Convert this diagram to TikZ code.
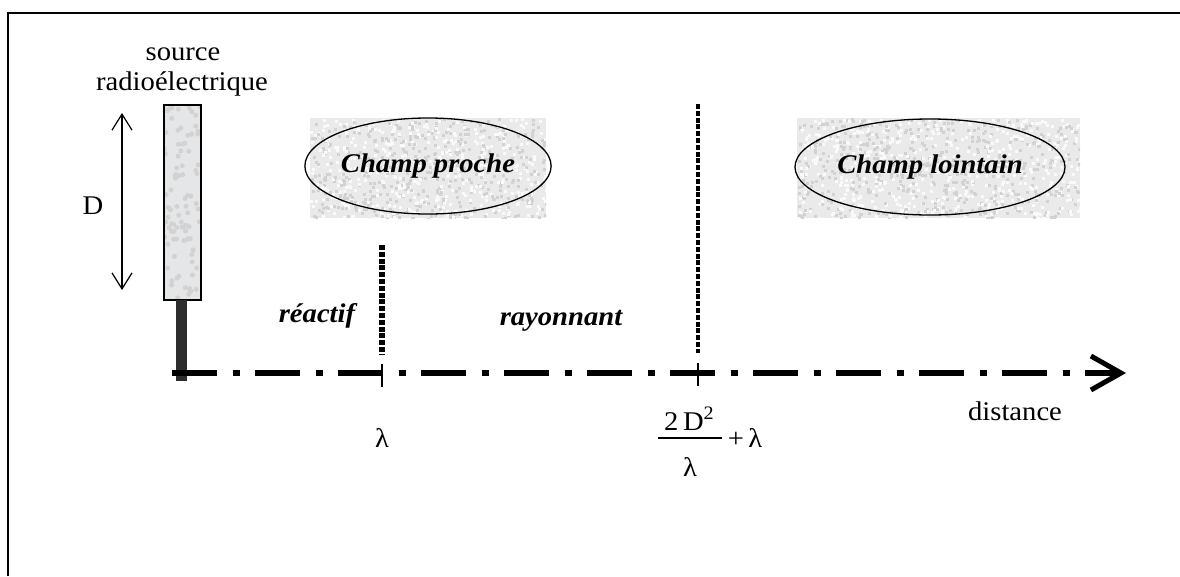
\documentclass[tikz,border=0pt]{standalone}
\usepackage{fontspec}
\setmainfont{Liberation Serif}[FakeStretch=1.06]
\usetikzlibrary{shapes.geometric,arrows.meta}
\definecolor{bgGray}{RGB}{234,234,234}
\definecolor{specDark}{RGB}{210,210,210}
\definecolor{specLight}{RGB}{250,250,250}
\definecolor{antGray}{RGB}{228,230,232}
\definecolor{stemGray}{RGB}{45,45,45}
\newcommand\myspeckle[5]{%
  \begin{scope}
    \clip (#1,#2) rectangle (#3,#4);
    \fill[bgGray] (#1,#2) rectangle (#3,#4);
    \foreach \k in {1,...,#5}{%
      \pgfmathsetmacro\px{#1+rnd*(#3-#1)}%
      \pgfmathsetmacro\py{#2+rnd*(#4-#2)}%
      \fill[specDark] (\px,\py) rectangle ++(3,3);
      \pgfmathsetmacro\qx{#1+rnd*(#3-#1)}%
      \pgfmathsetmacro\qy{#2+rnd*(#4-#2)}%
      \fill[specLight] (\qx,\qy) rectangle ++(3,3);
    }
  \end{scope}}
\tikzset{
  txt/.style={font=\fontsize{27}{30}\selectfont, inner sep=0pt, anchor=base},
  bitxt/.style={txt, font=\fontsize{27}{30}\selectfont\bfseries\itshape},
  zone/.style={ellipse, draw, line width=1.3pt, inner sep=0pt,
     font=\fontsize{27}{30}\selectfont\bfseries\itshape},
  axisline/.style={line width=5.5pt, dash pattern=on 45pt off 15.5pt on 7pt off 15.5pt,
     -{Straight Barb[length=30pt,width=34pt,line width=5pt]}},
  limit/.style={dash pattern=on 5pt off 1.8pt},
  tick/.style={line width=1.5pt},
  fracbar/.style={line width=1.5pt},
  dimarrow/.style={line width=1.2pt, {Straight Barb[length=16pt,width=20pt,line width=1.2pt]}-{Straight Barb[length=16pt,width=20pt,line width=1.2pt]}}
}
\begin{document}
\begin{tikzpicture}[x=1pt,y=-1pt]
\useasboundingbox (0,0) rectangle (1180,576);
\fill[white] (0,0) rectangle (1180,576);
% frame
\draw[line width=2pt] (8,576) -- (8,13) -- (1180,13);

% textured backgrounds
\pgfmathsetseed{7}
\myspeckle{310}{118}{546}{218}{450}
\myspeckle{797}{118}{1080}{218}{520}

% zones
\node[zone, minimum width=232pt, minimum height=96pt] (near) at (428,166) {Champ proche};
\node[zone, minimum width=270pt, minimum height=96pt] (far) at (930,167) {Champ lointain};

% antenna
\begin{scope}
  \clip (164,105) rectangle (201,300);
  \fill[antGray] (164,105) rectangle (201,300);
  \foreach \k in {1,...,90}{%
    \pgfmathsetmacro\px{164+rnd*37}%
    \pgfmathsetmacro\py{105+rnd*195}%
    \fill[specDark] (\px,\py) circle (2.5);
  }
\end{scope}
\node[draw, line width=1.3pt, minimum width=37pt, minimum height=195pt, inner sep=0pt] (ant) at (182.5,202.5) {};
\node[fill=stemGray, minimum width=11pt, minimum height=81pt, inner sep=0pt] (stem) at (181.5,340) {};

% labels of the source
\node[txt] (src1) at (183,60) {source};
\node[txt] (src2) at (182,90) {radioélectrique};

% dimension D
\coordinate (dtop) at (122,113);
\coordinate (dbot) at (122,290);
\draw[dimarrow] (dtop) -- (dbot);
\node[txt] (dlab) at (93,214) {D};

% axis
\coordinate (a0) at (172,373);
\coordinate (a1) at (1126,373);
\draw[axisline] (a0) -- (a1);

% limit lambda
\coordinate (l1top) at (382,245);
\coordinate (l1bot) at (382,354);
\draw[limit, line width=6pt] (l1top) -- (l1bot);
\coordinate (t1a) at (382,364);
\coordinate (t1b) at (382,387);
\draw[tick] (t1a) -- (t1b);

% limit 2D^2/lambda + lambda
\coordinate (l2top) at (698,104);
\coordinate (l2bot) at (698,353);
\draw[limit, line width=4.5pt] (l2top) -- (l2bot);
\coordinate (t2a) at (698,363);
\coordinate (t2b) at (698,386);
\draw[tick] (t2a) -- (t2b);

% region labels
\node[bitxt] (reac) at (317,322) {réactif};
\node[bitxt] (rayo) at (561,325) {rayonnant};

% axis labels
\node[txt] (lam) at (382,447) {λ};
\node[txt] (num) at (689,430) {2\,D\raisebox{11pt}{\fontsize{19}{20}\selectfont 2}};
\coordinate (fb0) at (658,438);
\coordinate (fb1) at (722,438);
\draw[fracbar] (fb0) -- (fb1);
\node[txt] (den) at (690,476) {λ};
\node[txt] (plus) at (745,447) {+\,λ};
\node[txt] (dist) at (1015,420) {distance};
\end{tikzpicture}
\end{document}
